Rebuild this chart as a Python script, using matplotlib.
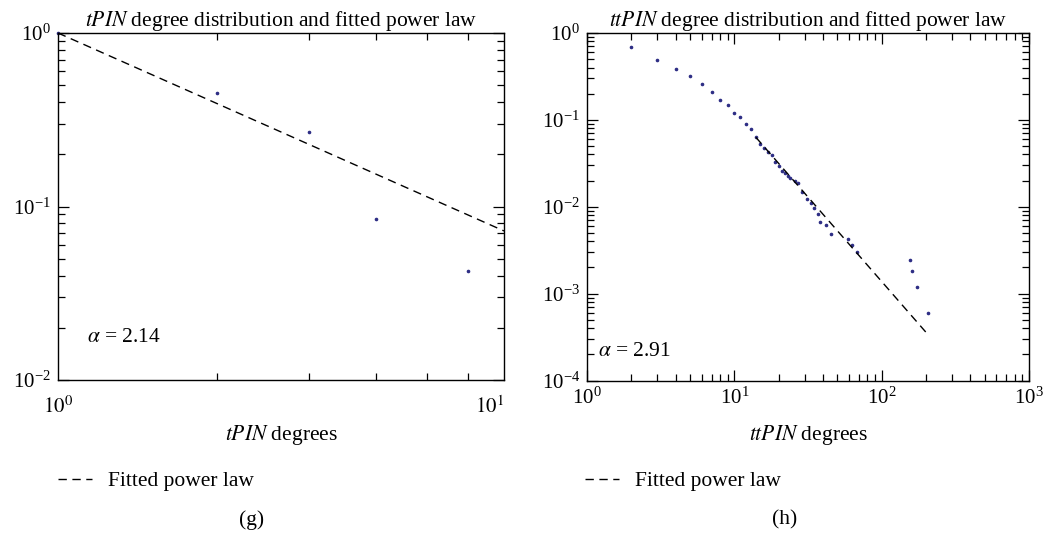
import matplotlib.pyplot as plt
from matplotlib.ticker import LogLocator, NullFormatter, FixedLocator

plt.rcParams['font.family'] = ['Liberation Serif', 'DejaVu Serif']
plt.rcParams['mathtext.fontset'] = 'stix'

# (g) tPIN degree distribution
tpin_deg = [1.0, 2.27, 3.66, 5.16, 8.30]
tpin_p = [1.0, 0.451, 0.269, 0.0847, 0.0425]
tpin_fit_x = [1.0, 10.0]
tpin_fit_y = [1.0, 0.0723]
tpin_xticks_minor = [2.27, 3.66, 5.16, 6.72, 8.30]
tpin_alpha = 2.14

# (h) ttPIN degree distribution
ttpin_deg = [2, 3, 4, 5, 6, 7, 8, 9, 10, 11, 12, 13, 14, 15, 16, 17, 18, 19, 20,
             21, 22, 23, 24, 26, 27, 29, 31, 33, 35, 37, 38, 42, 45, 59, 63, 68,
             156, 161, 173, 205]
ttpin_p = [0.684, 0.489, 0.385, 0.323, 0.257, 0.208, 0.169, 0.150, 0.121, 0.107,
           0.0905, 0.0786, 0.0636, 0.0524, 0.0475, 0.043, 0.039, 0.033, 0.0297,
           0.0258, 0.0243, 0.0226, 0.0216, 0.020, 0.0186, 0.0148, 0.0122, 0.011,
           0.0096, 0.0083, 0.0067, 0.0061, 0.0049, 0.0042, 0.0036, 0.003,
           0.00244, 0.00182, 0.0012, 0.000605]
ttpin_fit_x = [14, 210]
ttpin_fit_y = [0.063, 3.26e-4]
ttpin_alpha = 2.91

dot_color = '#2e2e85'
fs = 15

fig = plt.figure(figsize=(10.43, 5.33), dpi=100)
ax1 = fig.add_axes([58 / 1043, 1 - 380 / 533, 446 / 1043, 347 / 533])
ax2 = fig.add_axes([587 / 1043, 1 - 380.5 / 533, 442 / 1043, 347.5 / 533])


def style_axes(ax):
    ax.set_xscale('log')
    ax.set_yscale('log')
    ax.tick_params(which='both', direction='in', top=True, right=True,
                   labelsize=fs, width=0.9, pad=5)
    ax.tick_params(which='major', length=8)
    ax.tick_params(which='minor', length=5)
    for sp in ax.spines.values():
        sp.set_linewidth(1.0)


def add_legend(line, x_px):
    fig.legend([line], ['Fitted power law'], loc='center left',
               bbox_to_anchor=(x_px / 1043, 1 - 481 / 533), frameon=False,
               fontsize=fs + 0.5, handlelength=1.6, handletextpad=0.7,
               borderpad=0, borderaxespad=0)


## left panel
ax = ax1
style_axes(ax)
ax.plot(tpin_deg, tpin_p, 'o', ms=1.6, color=dot_color, clip_on=False)
fit_line, = ax.plot(tpin_fit_x, tpin_fit_y, '--', color='black', lw=1,
                    dashes=(6, 4))
ax.set_xlim(1, 10)
ax.set_ylim(1e-2, 1)
ax.xaxis.set_major_locator(FixedLocator([1, 10]))
ax.set_xticklabels(['$10^0$', '$10^1$'])
ax.get_xticklabels()[1].set_horizontalalignment('right')
ax.xaxis.set_minor_locator(FixedLocator(tpin_xticks_minor))
ax.xaxis.set_minor_formatter(NullFormatter())
ax.tick_params(axis='x', which='major', length=0, pad=12)
ax.yaxis.set_major_locator(LogLocator(base=10))
ax.yaxis.set_minor_locator(LogLocator(base=10, subs=range(2, 10)))
ax.yaxis.set_minor_formatter(NullFormatter())
ax.set_title('$\\mathit{tPIN}$ degree distribution and fitted power law',
             fontsize=fs + 0.5, pad=4)
ax.set_xlabel('$\\mathit{tPIN}$ degrees', fontsize=fs + 0.5, labelpad=3)
ax.text(0.065, 0.11, f'$\\alpha$ = {tpin_alpha:.2f}', transform=ax.transAxes,
        fontsize=fs + 0.5)
add_legend(fit_line, 58)
fig.text(252 / 1043, 1 - 520 / 533, '(g)', ha='center', va='center',
         fontsize=fs + 0.5)

## right panel
ax = ax2
style_axes(ax)
ax.plot(ttpin_deg, ttpin_p, 'o', ms=1.6, color=dot_color)
fit_line2, = ax.plot(ttpin_fit_x, ttpin_fit_y, '--', color='black', lw=1,
                     dashes=(6, 4))
ax.set_xlim(1, 1000)
ax.set_ylim(1e-4, 1)
ax.xaxis.set_major_locator(LogLocator(base=10))
ax.xaxis.set_minor_locator(LogLocator(base=10, subs=range(2, 10)))
ax.xaxis.set_minor_formatter(NullFormatter())
ax.yaxis.set_major_locator(LogLocator(base=10))
ax.yaxis.set_minor_locator(LogLocator(base=10, subs=range(2, 10)))
ax.yaxis.set_minor_formatter(NullFormatter())
ax.set_title('$\\mathit{ttPIN}$ degree distribution and fitted power law',
             fontsize=fs + 0.5, pad=4)
ax.set_xlabel('$\\mathit{ttPIN}$ degrees', fontsize=fs + 0.5, labelpad=10)
ax.text(0.025, 0.07, f'$\\alpha$ = {ttpin_alpha:.2f}', transform=ax.transAxes,
        fontsize=fs + 0.5)
add_legend(fit_line2, 585)
fig.text(785 / 1043, 1 - 520 / 533, '(h)', ha='center', va='center',
         fontsize=fs + 0.5)

plt.savefig('out.png', dpi=100)
